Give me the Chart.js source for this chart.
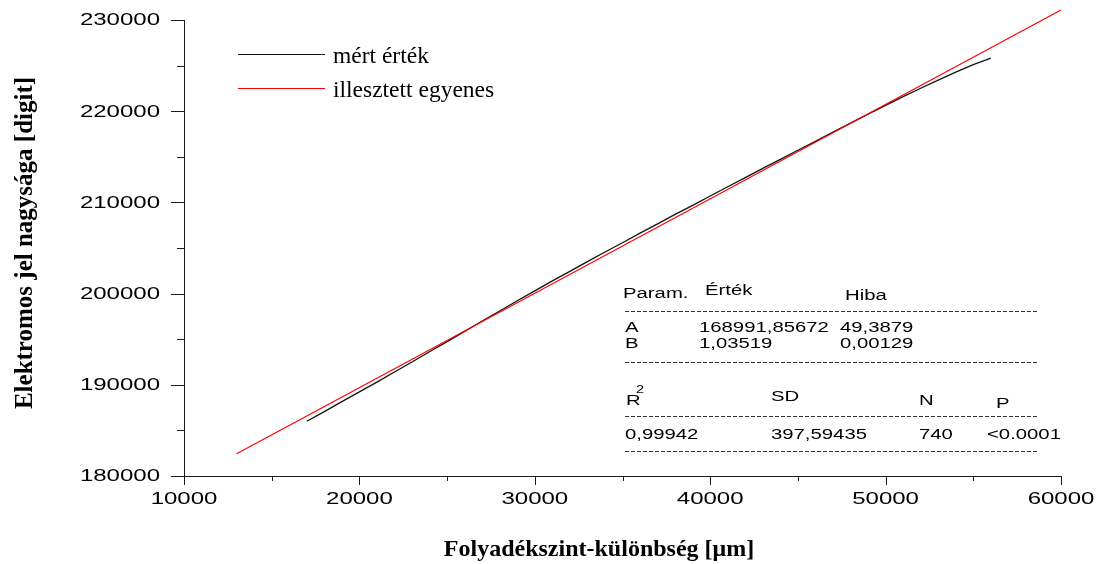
<!DOCTYPE html>
<html lang="hu">
<head>
<meta charset="utf-8">
<title>Elektromos jel nagysága</title>
<script src="https://cdn.jsdelivr.net/npm/chart.js@4.4.1/dist/chart.umd.min.js"></script>
<style>
  html, body { margin: 0; padding: 0; background: #fff; }
  #wrap { width: 1102px; height: 564px; }
</style>
</head>
<body>
<div id="wrap"><canvas id="chart" width="1102" height="564"></canvas></div>
<script>
// ===============================
// ADATOK
// ===============================
const meresX = [17000, 18000, 19000, 20000, 21000, 22000, 23000, 24000, 25000, 26000,
  27000, 28000, 29000, 30000, 31000, 32000, 33000, 34000, 35000, 36000,
  37000, 38000, 39000, 40000, 41000, 42000, 43000, 44000, 45000, 46000,
  47000, 48000, 49000, 50000, 51000, 52000, 53000, 54000, 55000, 56000];
const meresY = [186000, 187060, 188150, 189230, 190300, 191410, 192500, 193630, 194740, 195860,
  196990, 198090, 199210, 200300, 201390, 202440, 203500, 204560, 205580, 206630,
  207640, 208680, 209680, 210700, 211720, 212720, 213730, 214720, 215720, 216700,
  217710, 218690, 219680, 220640, 221590, 222520, 223410, 224290, 225110, 225810];

const illesztX = [13000, 60000];
const illesztY = [182449, 231103];

const xTickLabels = [10000, 20000, 30000, 40000, 50000, 60000];
const yTickLabels = [180000, 190000, 200000, 210000, 220000, 230000];

const legendLabels = ["mért érték", "illesztett egyenes"];
const xTitle = "Folyadékszint-különbség [\u03bcm]";
const yTitle = "Elektromos jel nagysága [digit]";

const paramHeader = ["Param.", "Érték", "Hiba"];
const paramRows = [
  ["A", "168991,85672", "49,3879"],
  ["B", "1,03519", "0,00129"]
];
const statHeader = ["R", "SD", "N", "P"];
const statRow = ["0,99942", "397,59435", "740", "<0.0001"];

// ===============================
// SEGEDFUGGVENYEK
// ===============================
const SANS = '"Liberation Sans", Arial, sans-serif';
const SERIF = '"Liberation Serif", "Times New Roman", serif';

// szelesitett (vizszintesen nyujtott) szoveg, mint az eredeti abran
function wideText(ctx, str, x, y, k, align) {
  ctx.save();
  ctx.translate(x, y);
  ctx.scale(k, 1);
  ctx.textAlign = align || "left";
  ctx.fillText(str, 0, 0);
  ctx.restore();
}

function dashLine(ctx, x1, x2, y) {
  ctx.save();
  ctx.strokeStyle = "#333";
  ctx.lineWidth = 1;
  ctx.setLineDash([4, 2]);
  ctx.beginPath();
  ctx.moveTo(x1, y + 0.5);
  ctx.lineTo(x2, y + 0.5);
  ctx.stroke();
  ctx.restore();
}

// ===============================
// TENGELYEK, FELIRATOK, TABLAZAT
// ===============================
const decorPlugin = {
  id: "decor",
  afterDraw(chart) {
    const ctx = chart.ctx;
    const xs = chart.scales.x;
    const ys = chart.scales.y;
    const left = chart.chartArea.left;
    const bottom = chart.chartArea.bottom;

    ctx.save();
    ctx.strokeStyle = "#1a1a1a";
    ctx.lineWidth = 1;
    ctx.beginPath();
    // y osztasok
    for (let i = 0; i < yTickLabels.length; i++) {
      const py = Math.round(ys.getPixelForValue(yTickLabels[i])) + 0.5;
      ctx.moveTo(left - 13, py);
      ctx.lineTo(left, py);
      if (i < yTickLabels.length - 1) {
        const pm = Math.round(ys.getPixelForValue((yTickLabels[i] + yTickLabels[i + 1]) / 2)) + 0.5;
        ctx.moveTo(left - 7, pm);
        ctx.lineTo(left, pm);
      }
    }
    // x osztasok
    for (let i = 0; i < xTickLabels.length; i++) {
      const px = Math.round(xs.getPixelForValue(xTickLabels[i])) + 0.5;
      ctx.moveTo(px, bottom);
      ctx.lineTo(px, bottom + 9);
      if (i < xTickLabels.length - 1) {
        const pm = Math.round(xs.getPixelForValue((xTickLabels[i] + xTickLabels[i + 1]) / 2)) + 0.5;
        ctx.moveTo(pm, bottom);
        ctx.lineTo(pm, bottom + 5);
      }
    }
    ctx.stroke();

    // osztas feliratok
    ctx.fillStyle = "#000";
    ctx.font = "16px " + SANS;
    ctx.textBaseline = "middle";
    yTickLabels.forEach(v => {
      wideText(ctx, String(v), left - 24, ys.getPixelForValue(v) + 1, 1.5, "right");
    });
    ctx.textBaseline = "alphabetic";
    xTickLabels.forEach(v => {
      wideText(ctx, String(v), xs.getPixelForValue(v), bottom + 28, 1.5, "center");
    });

    // tengelycimek
    ctx.textAlign = "center";
    ctx.font = "bold 24px " + SERIF;
    ctx.fillText(xTitle, 599, 556);
    ctx.save();
    ctx.font = "bold 25px " + SERIF;
    ctx.translate(32, 243);
    ctx.rotate(-Math.PI / 2);
    ctx.fillText(yTitle, 0, 0);
    ctx.restore();

    // jelmagyarazat
    const legendColors = ["#111", "#ff0000"];
    const legendY = [54, 88];
    ctx.font = "23.5px " + SERIF;
    ctx.textAlign = "left";
    legendLabels.forEach((lab, i) => {
      ctx.strokeStyle = legendColors[i];
      ctx.beginPath();
      ctx.moveTo(238, legendY[i] + 0.5);
      ctx.lineTo(325, legendY[i] + 0.5);
      ctx.stroke();
      ctx.fillText(lab, 333, legendY[i] + 9);
    });

    // illesztesi tablazat
    const k = 1.45;
    ctx.font = "14px " + SANS;
    wideText(ctx, paramHeader[0], 623, 298, k);
    wideText(ctx, paramHeader[1], 705, 295, k);
    wideText(ctx, paramHeader[2], 845, 300, k);
    dashLine(ctx, 625, 1037, 311);
    paramRows.forEach((row, i) => {
      const yb = 332 + i * 16;
      wideText(ctx, row[0], 625, yb, k);
      wideText(ctx, row[1], 699, yb, k);
      wideText(ctx, row[2], 840, yb, k);
    });
    dashLine(ctx, 625, 1037, 362);
    wideText(ctx, statHeader[0], 626, 405, k);
    ctx.font = "10px " + SANS;
    wideText(ctx, "2", 636, 393, k);
    ctx.font = "14px " + SANS;
    wideText(ctx, statHeader[1], 771, 401, k);
    wideText(ctx, statHeader[2], 919, 405, k);
    wideText(ctx, statHeader[3], 996, 408, k);
    dashLine(ctx, 625, 1037, 416);
    wideText(ctx, statRow[0], 625, 439, k);
    wideText(ctx, statRow[1], 771, 439, k);
    wideText(ctx, statRow[2], 919, 439, k);
    wideText(ctx, statRow[3], 987, 439, k);
    dashLine(ctx, 625, 1037, 451);

    ctx.restore();
  }
};

// ===============================
// DIAGRAM
// ===============================
const meresPontok = meresX.map((x, i) => ({ x: x, y: meresY[i] }));
const illesztPontok = illesztX.map((x, i) => ({ x: x, y: illesztY[i] }));

new Chart(document.getElementById("chart"), {
  type: "line",
  data: {
    datasets: [
      {
        label: legendLabels[0],
        data: meresPontok,
        borderColor: "#111",
        borderWidth: 1.3,
        pointRadius: 0,
        tension: 0,
        order: 2
      },
      {
        label: legendLabels[1],
        data: illesztPontok,
        borderColor: "#ff0000",
        borderWidth: 1.2,
        pointRadius: 0,
        clip: false,
        order: 1
      }
    ]
  },
  options: {
    responsive: false,
    devicePixelRatio: 1,
    animation: false,
    layout: { padding: { top: 20, right: 41, left: 0, bottom: 0 } },
    plugins: {
      legend: { display: false },
      tooltip: { enabled: false }
    },
    scales: {
      x: {
        type: "linear",
        min: 10000,
        max: 60000,
        ticks: { display: false },
        grid: { display: false, drawTicks: false },
        border: { display: true, color: "#1a1a1a", width: 1 },
        afterFit(scale) { scale.height = 88; }
      },
      y: {
        type: "linear",
        min: 180000,
        max: 230000,
        ticks: { display: false },
        grid: { display: false, drawTicks: false },
        border: { display: true, color: "#1a1a1a", width: 1 },
        afterFit(scale) { scale.width = 184; }
      }
    }
  },
  plugins: [decorPlugin]
});
</script>
</body>
</html>
